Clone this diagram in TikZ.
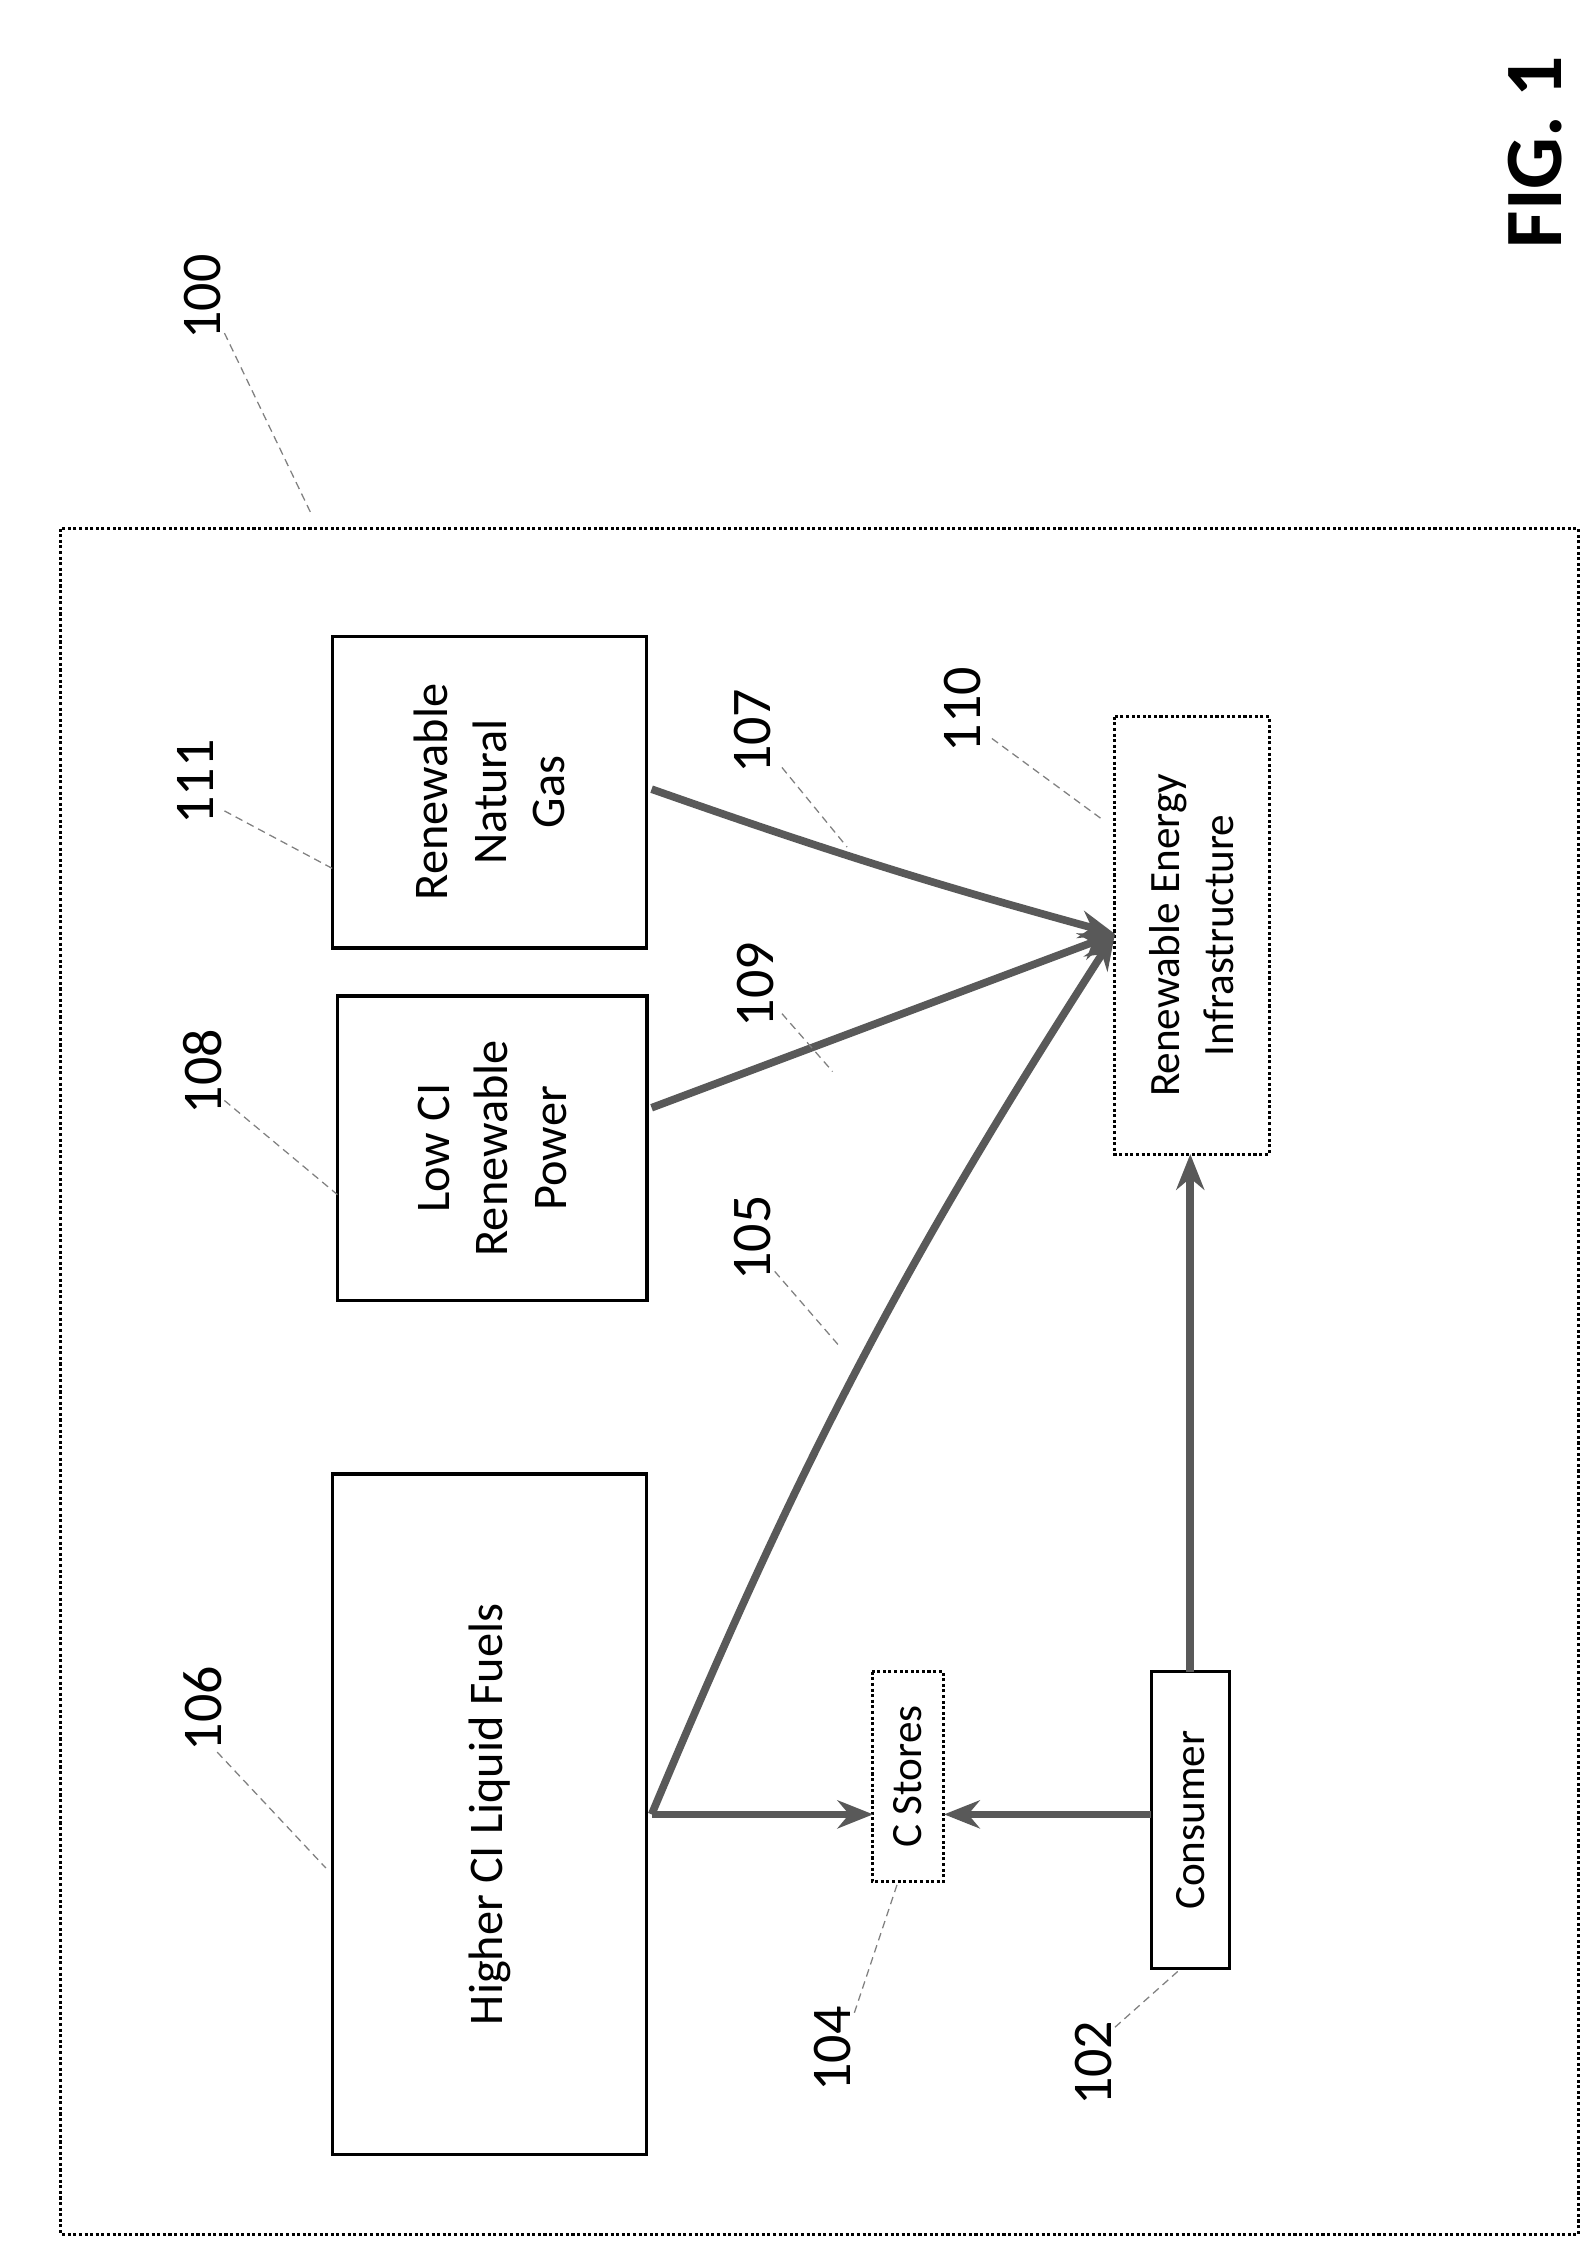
\documentclass[tikz,border=0pt]{standalone}
\usepackage{fontspec}
\setmainfont{Carlito}
\usetikzlibrary{arrows.meta}
\begin{document}
\begin{tikzpicture}[x=0.02cm,y=-0.02cm,
 box/.style={draw,line width=1.4pt,rotate=90,align=center,font=\fontsize{19}{23}\selectfont,inner sep=0},
 dbox/.style={draw,densely dotted,line width=1.2pt,rotate=90,align=center,font=\fontsize{17}{21}\selectfont,inner sep=0},
 flow/.style={draw=gray!70!black,line width=3pt,-{Stealth[length=14pt,width=11pt]}},
 num/.style={rotate=90,font=\fontsize{22}{26}\selectfont},
 lead/.style={densely dashed,gray,line width=0.5pt}]
\useasboundingbox (0,0) rectangle (1100,1558);
\draw[densely dotted,line width=1.2pt] (42,365) rectangle (1090,1543);
\node[box,minimum width=470*0.02cm,minimum height=217*0.02cm] (hf) at (338,1253) {Higher CI Liquid Fuels};
\node[box,minimum width=210*0.02cm,minimum height=214*0.02cm] (lp) at (340,793) {Low CI\\Renewable\\Power};
\node[box,minimum width=215*0.02cm,minimum height=217*0.02cm] (rg) at (338,547) {Renewable\\Natural\\Gas};
\node[dbox,minimum width=302*0.02cm,minimum height=107*0.02cm] (rei) at (823,646) {Renewable Energy\\Infrastructure};
\node[dbox,minimum width=145*0.02cm,minimum height=49*0.02cm] (cs) at (627,1227) {C Stores};
\node[box,minimum width=205*0.02cm,minimum height=54*0.02cm,line width=1.2pt,font=\fontsize{17}{21}\selectfont] (co) at (822,1257) {Consumer};
\coordinate (t) at (770,645);
\coordinate (hfo) at (450,1253);
\coordinate (lpo) at (450,765);
\coordinate (rgo) at (450,545);
\coordinate (csl) at (603,1253);
\coordinate (csr) at (652,1253);
\coordinate (col) at (795,1253);
\coordinate (cot) at (822,1155);
\coordinate (reib) at (822,797);
\draw[flow] (hfo) to[bend left=5] (t);
\draw[flow] (lpo) -- (t);
\draw[flow] (rgo) to[bend right=2] (t);
\draw[flow] (hfo) -- (csl);
\draw[flow] (col) -- (csr);
\draw[flow] (cot) -- (reib);
\node[num] (n100) at (140,205) {100}; \draw[lead] (155,230) -- (215,355);
\node[num] (n111) at (135,540) {111}; \draw[lead] (155,560) -- (230,600);
\node[num] (n108) at (140,740) {108}; \draw[lead] (155,760) -- (233,825);
\node[num] (n106) at (140,1180) {106}; \draw[lead] (150,1210) -- (225,1290);
\node[num] (n104) at (575,1415) {104}; \draw[lead] (590,1390) -- (620,1300);
\node[num] (n102) at (755,1425) {102}; \draw[lead] (770,1400) -- (815,1360);
\node[num] (n105) at (520,855) {105}; \draw[lead] (535,878) -- (580,930);
\node[num] (n109) at (522,680) {109}; \draw[lead] (540,700) -- (575,740);
\node[num] (n107) at (520,505) {107}; \draw[lead] (540,530) -- (585,585);
\node[num] (n110) at (665,490) {110}; \draw[lead] (685,510) -- (760,565);
\node[rotate=90,font=\fontsize{32}{36}\selectfont\bfseries] (fig) at (1060,105) {FIG. 1};
\end{tikzpicture}
\end{document}
